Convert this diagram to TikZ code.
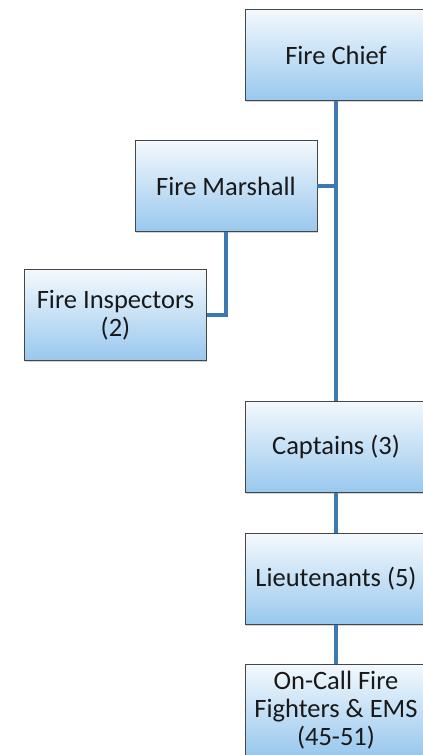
\documentclass[tikz,border=0pt]{standalone}
\usepackage{fontspec}
\setmainfont{Carlito}
\usepackage{tikz}
\usetikzlibrary{calc, shadows}
\definecolor{boxtop}{RGB}{244, 249, 253}
\definecolor{boxbottom}{RGB}{152, 200, 238}
\definecolor{boxline}{RGB}{70, 70, 70}
\definecolor{linkblue}{RGB}{62, 120, 178}
\definecolor{ink}{RGB}{25, 25, 25}

\begin{document}
\begin{tikzpicture}[x=1pt, y=-1pt,
    unit/.style={draw=boxline, line width=0.9pt, top color=boxtop, bottom color=boxbottom,
      minimum width=182pt, minimum height=91pt, inner sep=0pt, align=center,
      text=ink, font=\fontsize{26.5}{28}\selectfont,
      drop shadow={shadow xshift=0.8pt, shadow yshift=-1.2pt, opacity=0.35}},
    link/.style={draw=linkblue, line width=3.4pt}]

  \useasboundingbox (0, 0) rectangle (423, 755);
  \clip (0, 0) rectangle (423, 755);

  % connectors first, boxes on top
  \coordinate (trunktop) at (336, 100);
  \coordinate (trunkbot) at (336, 401);
  \draw[link] (trunktop) -- (trunkbot);

  \node[unit] (chief) at (336, 55) {Fire Chief};
  \node[unit] (marshall) at (226, 186) {Fire Marshall};
  \node[unit] (inspectors) at (115.5, 315) {Fire Inspectors\\(2)};
  \node[unit] (captains) at (336, 447) {Captains (3)};
  \node[unit] (lieutenants) at (336, 579) {Lieutenants (5)};
  \node[unit] (oncall) at (336, 710) {On-Call Fire\\Fighters \& EMS\\(45-51)};

  \draw[link] (marshall.east) -- (marshall.east -| trunktop);
  \draw[link] (marshall.south) |- (inspectors.east);
  \draw[link] (captains.south) -- (lieutenants.north);
  \draw[link] (lieutenants.south) -- (oncall.north);

\end{tikzpicture}
\end{document}
